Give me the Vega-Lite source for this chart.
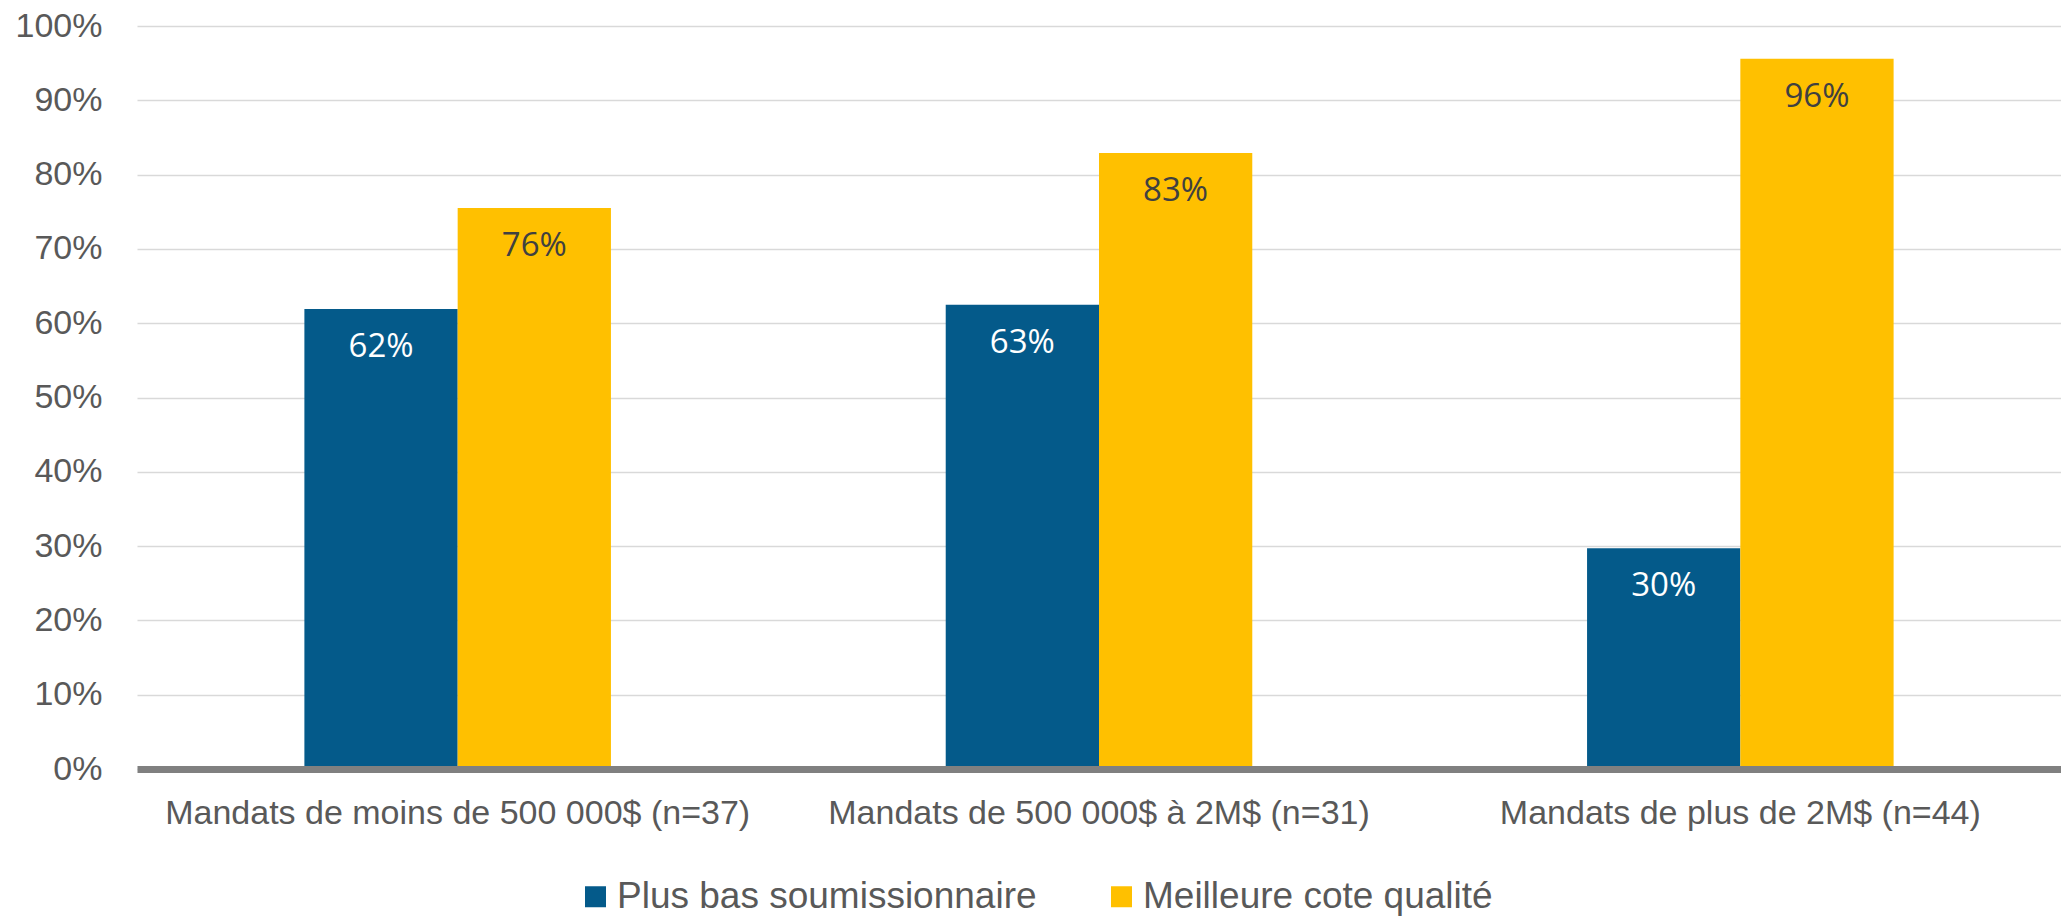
{
  "$schema": "https://vega.github.io/schema/vega-lite/v6.json",
  "width": 1924,
  "height": 743,
  "autosize": {"type": "none"},
  "padding": {"left": 137, "top": 26, "right": 0, "bottom": 150},
  "background": "white",
  "config": {"view": {"stroke": null}, "font": "Liberation Sans"},
  "data": {
    "values": [
      {"category": "Mandats de moins de 500 000$ (n=37)", "series": "Plus bas soumissionnaire", "value": 61.9, "label": "62%"},
      {"category": "Mandats de moins de 500 000$ (n=37)", "series": "Meilleure cote qualité", "value": 75.5, "label": "76%"},
      {"category": "Mandats de 500 000$ à 2M$ (n=31)", "series": "Plus bas soumissionnaire", "value": 62.5, "label": "63%"},
      {"category": "Mandats de 500 000$ à 2M$ (n=31)", "series": "Meilleure cote qualité", "value": 82.9, "label": "83%"},
      {"category": "Mandats de plus de 2M$ (n=44)", "series": "Plus bas soumissionnaire", "value": 29.7, "label": "30%"},
      {"category": "Mandats de plus de 2M$ (n=44)", "series": "Meilleure cote qualité", "value": 95.6, "label": "96%"}
    ]
  },
  "encoding": {
    "x": {
      "field": "category",
      "type": "nominal",
      "sort": ["Mandats de moins de 500 000$ (n=37)", "Mandats de 500 000$ à 2M$ (n=31)", "Mandats de plus de 2M$ (n=44)"],
      "scale": {"paddingInner": 0.522, "paddingOuter": 0.261},
      "axis": {
        "title": null,
        "labelAngle": 0,
        "ticks": false,
        "tickSize": 0,
        "labelPadding": 54,
        "labelBaseline": "alphabetic",
        "labelFontSize": 34,
        "labelColor": "#595959",
        "labelLimit": 0,
        "domainColor": "#808080",
        "domainWidth": 7,
        "grid": false,
        "zindex": 1
      }
    },
    "xOffset": {
      "field": "series",
      "type": "nominal",
      "sort": ["Plus bas soumissionnaire", "Meilleure cote qualité"],
      "scale": {"paddingInner": 0, "paddingOuter": 0}
    },
    "y": {
      "field": "value",
      "type": "quantitative",
      "scale": {"domain": [0, 100], "nice": false},
      "axis": {
        "title": null,
        "values": [0, 10, 20, 30, 40, 50, 60, 70, 80, 90, 100],
        "labelExpr": "datum.value + '%'",
        "ticks": false,
        "tickSize": 0,
        "labelPadding": 35,
        "domain": false,
        "grid": true,
        "gridColor": "#D9D9D9",
        "gridWidth": 1.5,
        "labelFontSize": 34,
        "labelColor": "#595959",
        "zindex": 0
      }
    }
  },
  "layer": [
    {
      "mark": {"type": "bar"},
      "encoding": {
        "color": {
          "field": "series",
          "type": "nominal",
          "scale": {"domain": ["Plus bas soumissionnaire", "Meilleure cote qualité"], "range": ["#045A8A", "#FFC000"]},
          "legend": {
            "title": null,
            "orient": "none",
            "direction": "horizontal",
            "legendX": 440,
            "legendY": 852,
            "symbolType": "square",
            "symbolSize": 441,
            "symbolStrokeWidth": 0,
            "labelFontSize": 37,
            "labelColor": "#595959",
            "labelOffset": 3,
            "columnPadding": 66,
            "labelLimit": 0
          }
        }
      }
    },
    {
      "mark": {"type": "text", "dy": 48, "baseline": "alphabetic", "align": "center", "font": "Open Sans", "fontSize": 33},
      "encoding": {
        "text": {"field": "label"},
        "color": {
          "condition": {"test": "datum.series === 'Plus bas soumissionnaire'", "value": "#ffffff"},
          "value": "#404040"
        }
      }
    }
  ]
}
